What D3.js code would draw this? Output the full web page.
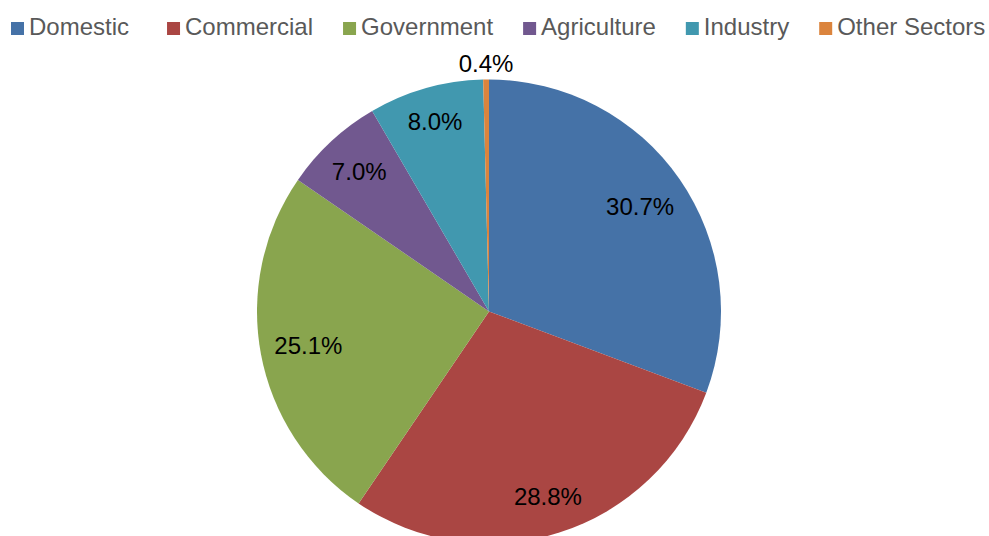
<!DOCTYPE html>
<html>
<head>
<meta charset="utf-8">
<script src="https://cdn.jsdelivr.net/npm/d3@7/dist/d3.min.js"></script>
<style>
  html, body { margin: 0; padding: 0; background: #fff; }
  svg { display: block; }
</style>
</head>
<body>
<svg id="chart" width="989" height="536"></svg>
<script>
// Share of consumption by sector (percent)
const sectors = ["Domestic", "Commercial", "Government", "Agriculture", "Industry", "Other Sectors"];
const shares = [30.7, 28.8, 25.1, 7.0, 8.0, 0.4];
const colors = ["#4572A7", "#AA4643", "#89A54E", "#71588F", "#4198AF", "#DB843D"];

const width = 989, height = 536;
const cx = 489, cy = 311.5, radius = 232;
const font = "Liberation Sans, Arial, sans-serif";

const svg = d3.select("#chart");

const data = sectors.map((name, i) => ({ name, value: shares[i], color: colors[i] }));

const pie = d3.pie().sort(null).value(d => d.value).startAngle(0).endAngle(2 * Math.PI);
const arcs = pie(data);

const arc = d3.arc().innerRadius(0).outerRadius(radius);

const g = svg.append("g").attr("transform", `translate(${cx},${cy})`);

g.selectAll("path.slice")
  .data(arcs)
  .join("path")
  .attr("class", "slice")
  .attr("d", arc)
  .attr("fill", d => d.data.color);

// Percentage labels: fitted inside the slice so the label box's outer corner
// sits a little inside the rim; very thin slices get their label outside.
const labels = g.selectAll("text.pct")
  .data(arcs)
  .join("text")
  .attr("class", "pct")
  .attr("text-anchor", "middle")
  .attr("font-family", font)
  .attr("font-size", 24)
  .attr("fill", "#000")
  .text(d => d3.format(".1f")(d.data.value) + "%");

const cornerRadius = radius - 12;
const halfH = 14;
labels.each(function(d) {
  const t = d3.select(this);
  const mid = (d.startAngle + d.endAngle) / 2;
  const ux = Math.sin(mid), uy = -Math.cos(mid);
  if (d.data.value < 2) {
    const r = radius + 8;
    t.attr("x", r * ux).attr("y", r * uy);
    return;
  }
  const halfW = this.getComputedTextLength() / 2;
  const sx = Math.sign(ux) || 1, sy = Math.sign(uy) || 1;
  // Solve |(r*ux + sx*halfW, r*uy + sy*halfH)| = cornerRadius for r
  const b = 2 * (ux * sx * halfW + uy * sy * halfH);
  const c = halfW * halfW + halfH * halfH - cornerRadius * cornerRadius;
  const r = (-b + Math.sqrt(b * b - 4 * c)) / 2;
  t.attr("x", r * ux).attr("y", r * uy).attr("dy", "0.35em");
});

// Legend across the top
const legend = svg.append("g").attr("class", "legend");
let lx = 11;
const gap = 30;
data.forEach((d, i) => {
  const item = legend.append("g").attr("transform", `translate(${lx},0)`);
  item.append("rect")
    .attr("x", 0).attr("y", 22)
    .attr("width", 13).attr("height", 13)
    .attr("fill", d.color);
  const t = item.append("text")
    .attr("x", 18).attr("y", 35)
    .attr("font-family", font)
    .attr("font-size", 24)
    .attr("fill", "#595959")
    .text(d.name);
  lx += 18 + t.node().getComputedTextLength() + gap + (i === 0 ? 8 : 0);
});
</script>
</body>
</html>
